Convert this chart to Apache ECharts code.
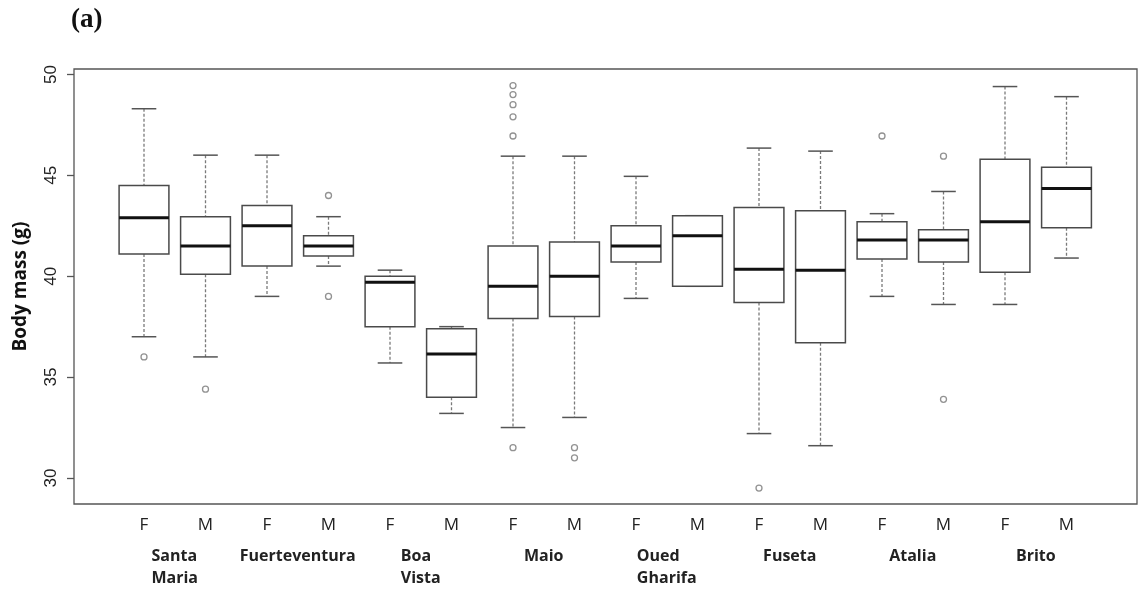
<!DOCTYPE html>
<html>
<head>
<meta charset="utf-8">
<script src="https://cdn.jsdelivr.net/npm/echarts@6/dist/echarts.min.js"></script>
<style>
html, body { margin: 0; padding: 0; background: #fff; }
#chart { width: 1138px; height: 590px; }
</style>
</head>
<body>
<div id="chart"></div>
<script>
// groups along the x axis
var sexes = ['F', 'M', 'F', 'M', 'F', 'M', 'F', 'M', 'F', 'M', 'F', 'M', 'F', 'M', 'F', 'M'];
var sites = ['Santa\nMaria', 'Fuerteventura', 'Boa\nVista', 'Maio', 'Oued\nGharifa', 'Fuseta', 'Atalia', 'Brito'];

// box statistics (g), one entry per group
var whiskerLow  = [37.0, 36.0, 39.0, 40.5, 35.7, 33.2, 32.5, 33.0, 38.9, 39.5, 32.2, 31.6, 39.0, 38.6, 38.6, 40.9];
var q1          = [41.1, 40.1, 40.5, 41.0, 37.5, 34.0, 37.9, 38.0, 40.7, 39.5, 38.7, 36.7, 40.85, 40.7, 40.2, 42.4];
var medians     = [42.9, 41.5, 42.5, 41.5, 39.7, 36.15, 39.5, 40.0, 41.5, 42.0, 40.35, 40.3, 41.8, 41.8, 42.7, 44.35];
var q3          = [44.5, 42.95, 43.5, 42.0, 40.0, 37.4, 41.5, 41.7, 42.5, 43.0, 43.4, 43.25, 42.7, 42.3, 45.8, 45.4];
var whiskerHigh = [48.3, 46.0, 46.0, 42.95, 40.3, 37.5, 45.95, 45.95, 44.95, 43.0, 46.35, 46.2, 43.1, 44.2, 49.4, 48.9];

// outliers as [group index, value]
var outliers = [
  [0, 36.0], [1, 34.4], [3, 44.0], [3, 39.0],
  [6, 49.45], [6, 49.0], [6, 48.5], [6, 47.9], [6, 46.95], [6, 31.5],
  [7, 31.5], [7, 31.0], [10, 29.5], [12, 46.95], [13, 45.95], [13, 33.9]
];

var yTicks = [30, 35, 40, 45, 50];

var boxData = sexes.map(function (s, i) {
  return [i, whiskerLow[i], q1[i], medians[i], q3[i], whiskerHigh[i]];
});

function renderBox(params, api) {
  var i = api.value(0);
  var band = api.size([1, 0])[0];
  var half = band * 0.405;
  var cap = band * 0.2;
  var pLow = api.coord([i, api.value(1)]);
  var pQ1 = api.coord([i, api.value(2)]);
  var pMed = api.coord([i, api.value(3)]);
  var pQ3 = api.coord([i, api.value(4)]);
  var pHigh = api.coord([i, api.value(5)]);
  var x = pMed[0];
  var dash = { stroke: '#7a7a7a', lineWidth: 1.3, lineDash: [3, 2] };
  var solid = { stroke: '#555', lineWidth: 1.5 };
  return {
    type: 'group',
    children: [
      { type: 'line', shape: { x1: x, y1: pHigh[1], x2: x, y2: pQ3[1] }, style: dash },
      { type: 'line', shape: { x1: x, y1: pQ1[1], x2: x, y2: pLow[1] }, style: dash },
      { type: 'line', shape: { x1: x - cap, y1: pHigh[1], x2: x + cap, y2: pHigh[1] }, style: solid },
      { type: 'line', shape: { x1: x - cap, y1: pLow[1], x2: x + cap, y2: pLow[1] }, style: solid },
      { type: 'rect', shape: { x: x - half, y: pQ3[1], width: half * 2, height: pQ1[1] - pQ3[1] },
        style: { fill: '#fff', stroke: '#4a4a4a', lineWidth: 1.5 } },
      { type: 'line', shape: { x1: x - half, y1: pMed[1], x2: x + half, y2: pMed[1] },
        style: { stroke: '#111', lineWidth: 3 } }
    ]
  };
}

var chart = echarts.init(document.getElementById('chart'));
chart.setOption({
  animation: false,
  backgroundColor: '#fff',
  title: {
    text: '(a)',
    left: 71,
    top: 7,
    padding: 0,
    textStyle: { fontFamily: 'Liberation Serif', fontWeight: 'bold', fontSize: 27, color: '#111' }
  },
  grid: [
    { left: 113.25, right: 40.75, top: 69, bottom: 86 },
    { left: 74, right: 1, top: 69, bottom: 86, show: true, borderColor: '#555', borderWidth: 1.3 }
  ],
  xAxis: [
    {
      type: 'category',
      gridIndex: 0,
      data: sexes,
      boundaryGap: true,
      axisLine: { show: false },
      axisTick: { alignWithLabel: true, length: 7, lineStyle: { color: '#555', width: 1.3 } },
      axisLabel: { interval: 0, margin: 13, fontFamily: 'Open Sans', fontSize: 17, color: '#222' },
      splitLine: { show: false }
    },
    {
      type: 'category',
      gridIndex: 0,
      position: 'bottom',
      data: sites,
      axisLine: { show: false },
      axisTick: { show: false },
      axisLabel: {
        interval: 0,
        margin: 41,
        formatter: function (v) {
          // lines of a two-word site name start at the same left edge
          return v.split('\n').map(function (s) { return '{g|' + s + '}'; }).join('\n');
        },
        rich: {
          g: { fontFamily: 'Open Sans', fontWeight: 'bold', fontSize: 16, lineHeight: 22, color: '#222', align: 'left' }
        }
      },
      splitLine: { show: false }
    },
    { type: 'value', gridIndex: 1, show: false }
  ],
  yAxis: [
    {
      type: 'value',
      gridIndex: 0,
      position: 'left',
      offset: 39.25,
      min: 28.71,
      max: 50.27,
      axisLine: { show: false },
      axisTick: { show: true, length: 7, customValues: yTicks, lineStyle: { color: '#555', width: 1.3 } },
      axisLabel: { customValues: yTicks, rotate: 90, margin: 14, fontFamily: 'Liberation Sans', fontSize: 17, color: '#222' },
      splitLine: { show: false },
      name: 'Body mass (g)',
      nameLocation: 'middle',
      nameRotate: 90,
      nameGap: 44,
      nameTextStyle: { fontFamily: 'Open Sans', fontWeight: 'bold', fontSize: 19, color: '#111' }
    },
    { type: 'value', gridIndex: 1, show: false }
  ],
  series: [
    {
      type: 'custom',
      xAxisIndex: 0,
      yAxisIndex: 0,
      data: boxData,
      encode: { x: 0, y: [1, 2, 3, 4, 5] },
      renderItem: renderBox
    },
    {
      type: 'scatter',
      xAxisIndex: 0,
      yAxisIndex: 0,
      data: outliers,
      symbol: 'circle',
      symbolSize: 6,
      itemStyle: { color: '#fff', borderColor: '#777', borderWidth: 1.3 }
    }
  ]
});
</script>
</body>
</html>
